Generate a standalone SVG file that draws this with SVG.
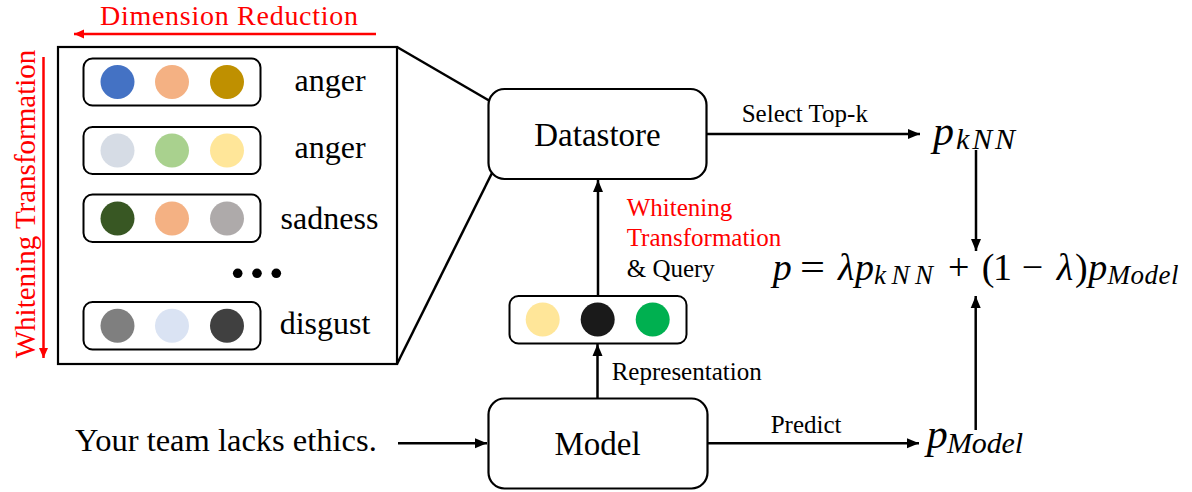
<svg xmlns="http://www.w3.org/2000/svg" width="1192" height="492" viewBox="0 0 1192 492">
<style>
.t{font-family:"Liberation Serif","Times New Roman",serif;fill:#000}
.red{fill:#FF0000}
.m{font-family:"Liberation Serif","Times New Roman",serif;font-style:italic;fill:#000}
.mr{font-family:"Liberation Serif","Times New Roman",serif;fill:#000}
.box{fill:#fff;stroke:#000;stroke-width:2.2}
.row{fill:#fff;stroke:#000;stroke-width:2}
.ln{fill:none;stroke:#000;stroke-width:2.5}
.rl{fill:none;stroke:#FF0000;stroke-width:2.5}
</style>
<defs>
<marker id="ah" markerUnits="userSpaceOnUse" markerWidth="14" markerHeight="12" refX="12" refY="6" orient="auto">
<path d="M0,1 L12,6 L0,11 Z" fill="#000"/>
</marker>
<marker id="rh" markerUnits="userSpaceOnUse" markerWidth="12" markerHeight="10" refX="10" refY="5" orient="auto">
<path d="M0,0.5 L10,5 L0,9.5 Z" fill="#FF0000"/>
</marker>
</defs>

<g id="dim-reduction">
<text class="t red" x="100" y="25" font-size="28" textLength="258" lengthAdjust="spacing">Dimension Reduction</text>
<line class="rl" x1="376" y1="34" x2="74" y2="34" marker-end="url(#rh)"/>
</g>

<g id="whitening-left">
<text class="t red" font-size="29" text-anchor="middle" transform="translate(35,204) rotate(-90)">Whitening Transformation</text>
<line class="rl" x1="43.5" y1="57" x2="43.5" y2="358" marker-end="url(#rh)"/>
</g>

<g id="datastore-detail">
<rect class="box" x="58" y="47" width="339" height="317" stroke-width="2.5"/>
<g id="entry1">
<rect class="row" x="83.5" y="58.5" width="177" height="47" rx="9"/>
<circle cx="117.5" cy="82" r="17" fill="#4472C4"/>
<circle cx="172" cy="82" r="17" fill="#F4B183"/>
<circle cx="227" cy="82" r="17" fill="#BF9000"/>
<text class="t" x="330" y="91" font-size="32" text-anchor="middle">anger</text>
</g>
<g id="entry2">
<rect class="row" x="83.5" y="127" width="177" height="47" rx="9"/>
<circle cx="117.5" cy="150.5" r="17" fill="#D6DCE5"/>
<circle cx="172" cy="150.5" r="17" fill="#A9D18E"/>
<circle cx="227" cy="150.5" r="17" fill="#FFE699"/>
<text class="t" x="330" y="157.5" font-size="32" text-anchor="middle">anger</text>
</g>
<g id="entry3">
<rect class="row" x="83.5" y="194.5" width="177" height="47.5" rx="9"/>
<circle cx="117.5" cy="218.5" r="17" fill="#385723"/>
<circle cx="172" cy="218.5" r="17" fill="#F4B183"/>
<circle cx="227" cy="218.5" r="17" fill="#AEAAAA"/>
<text class="t" x="329.5" y="229" font-size="32" text-anchor="middle">sadness</text>
</g>
<g id="ellipsis">
<circle cx="237.7" cy="273.3" r="4.8" fill="#000"/>
<circle cx="257" cy="273.3" r="4.8" fill="#000"/>
<circle cx="276.3" cy="273.3" r="4.8" fill="#000"/>
</g>
<g id="entry4">
<rect class="row" x="83.5" y="302" width="177" height="47.5" rx="9"/>
<circle cx="117.5" cy="325.7" r="17" fill="#7F7F7F"/>
<circle cx="172" cy="325.7" r="17" fill="#DAE3F3"/>
<circle cx="227" cy="325.7" r="17" fill="#404040"/>
<text class="t" x="325" y="334" font-size="32" text-anchor="middle">disgust</text>
</g>
</g>

<g id="connectors">
<line class="ln" x1="397" y1="47" x2="489" y2="100.5"/>
<line class="ln" x1="397" y1="364" x2="492" y2="173"/>
<line class="ln" x1="398" y1="443.3" x2="487" y2="443.3" marker-end="url(#ah)"/>
<line class="ln" x1="597.5" y1="398" x2="597.5" y2="344" marker-end="url(#ah)"/>
<line class="ln" x1="598" y1="296" x2="598" y2="180" marker-end="url(#ah)"/>
<line class="ln" x1="707" y1="134" x2="920" y2="134" marker-end="url(#ah)"/>
<line class="ln" x1="707" y1="443.3" x2="919" y2="443.3" marker-end="url(#ah)"/>
<line class="ln" x1="976" y1="150" x2="976" y2="251" marker-end="url(#ah)"/>
<line class="ln" x1="975.7" y1="430" x2="975.7" y2="296" marker-end="url(#ah)"/>
</g>

<g id="datastore">
<rect class="box" x="488.5" y="89" width="218" height="90" rx="16"/>
<text class="t" x="597.5" y="146" font-size="33" text-anchor="middle">Datastore</text>
</g>

<g id="query-label">
<text class="t red" x="626.7" y="216" font-size="25">Whitening</text>
<text class="t red" x="626.7" y="246" font-size="25">Transformation</text>
<text class="t" x="626.7" y="277" font-size="25">&amp; Query</text>
</g>

<g id="representation">
<rect class="row" x="509.5" y="296" width="177" height="47.5" rx="9"/>
<circle cx="542.7" cy="319.5" r="17" fill="#FFE699"/>
<circle cx="597.7" cy="319.5" r="17" fill="#1A1A1A"/>
<circle cx="652.7" cy="319.5" r="17" fill="#00B050"/>
</g>
<text class="t" x="611.7" y="380" font-size="25">Representation</text>

<g id="model">
<rect class="box" x="488.5" y="398.5" width="219" height="90" rx="16"/>
<text class="t" x="597.5" y="455" font-size="33" text-anchor="middle">Model</text>
</g>

<g id="input">
<text class="t" x="75" y="450.7" font-size="32.5">Your team lacks ethics.</text>
</g>

<text class="t" x="741.7" y="121.7" font-size="25">Select Top-k</text>
<text class="t" x="770.7" y="433.3" font-size="25">Predict</text>

<g id="p-knn">
<text class="m" x="933" y="145" font-size="42">p</text>
<text class="m" x="956" y="149" font-size="30" textLength="59" lengthAdjust="spacing">kNN</text>
</g>

<g id="p-model">
<text class="m" x="926.7" y="448" font-size="42">p</text>
<text class="m" x="947" y="453" font-size="30" textLength="76" lengthAdjust="spacing">Model</text>
</g>

<g id="formula">
<text class="m" x="772.7" y="279.5" font-size="38">p</text>
<text class="mr" x="800" y="279.5" font-size="38" textLength="25" lengthAdjust="spacingAndGlyphs">=</text>
<text class="m" x="838" y="279.5" font-size="38">λ</text>
<text class="m" x="855" y="279.5" font-size="38">p</text>
<text class="m" x="874" y="283.5" font-size="27" textLength="59" lengthAdjust="spacing">kNN</text>
<text class="mr" x="948" y="279.5" font-size="38">+</text>
<text class="mr" x="981.7" y="279.5" font-size="38">(</text>
<text class="mr" x="993" y="279.5" font-size="38">1</text>
<text class="mr" x="1021.7" y="279.5" font-size="38">−</text>
<text class="m" x="1056.7" y="279.5" font-size="38">λ</text>
<text class="mr" x="1075" y="279.5" font-size="38">)</text>
<text class="m" x="1088.3" y="279.5" font-size="38">p</text>
<text class="m" x="1107.5" y="283.5" font-size="27" textLength="71" lengthAdjust="spacing">Model</text>
</g>
</svg>
